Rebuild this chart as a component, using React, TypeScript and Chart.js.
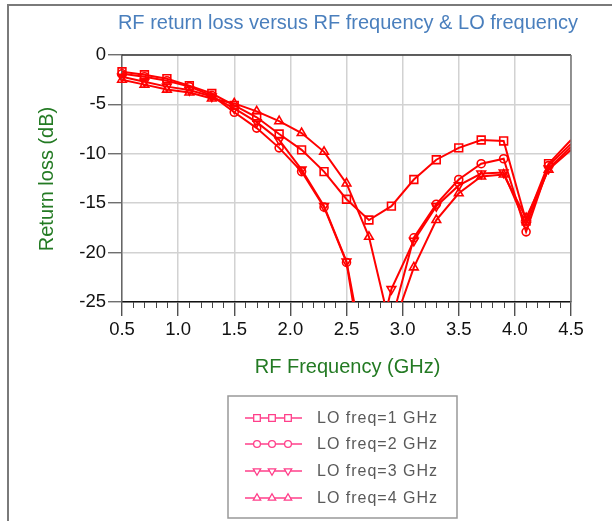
import React, { useEffect, useRef } from "react";
import { Chart, registerables } from "chart.js";

Chart.register(...registerables);

const FONT = "'Liberation Sans', Arial, sans-serif";

const TITLE = "RF return loss versus RF frequency & LO frequency";
const X_TITLE = "RF Frequency (GHz)";
const Y_TITLE = "Return loss (dB)";

const rfFreq = [0.5, 0.7, 0.9, 1.1, 1.3, 1.5, 1.7, 1.9, 2.1, 2.3, 2.5, 2.7, 2.9, 3.1, 3.3, 3.5, 3.7, 3.9, 4.1, 4.3, 4.5];

const seriesLabels = ["LO freq=1 GHz", "LO freq=2 GHz", "LO freq=3 GHz", "LO freq=4 GHz"];

const lo1 = [-1.7, -2.0, -2.4, -3.1, -3.9, -5.1, -6.3, -8.0, -9.6, -11.8, -14.6, -16.7, -15.3, -12.6, -10.6, -9.4, -8.6, -8.7, -16.8, -11.0, -8.6];
const lo2 = [-1.9, -2.2, -2.6, -3.2, -4.1, -5.8, -7.4, -9.4, -11.8, -15.4, -21.0, -35.0, -27.0, -18.5, -15.1, -12.6, -11.0, -10.5, -17.9, -11.2, -9.0];
const lo3 = [-2.2, -2.7, -3.2, -3.55, -4.2, -5.4, -6.8, -8.6, -11.6, -15.3, -20.9, -33.0, -23.7, -18.8, -15.3, -13.2, -12.0, -11.9, -17.2, -11.5, -9.3];
const lo4 = [-2.5, -3.0, -3.5, -3.8, -4.4, -4.9, -5.7, -6.7, -7.9, -9.8, -13.0, -18.4, -28.0, -21.5, -16.7, -14.0, -12.3, -12.1, -16.5, -11.6, -9.6];

const xTicks = [0.5, 1.0, 1.5, 2.0, 2.5, 3.0, 3.5, 4.0, 4.5];
const yTicks = [0, -5, -10, -15, -20, -25];

const markerStyles = [
  { style: "rect", rotation: 0, radius: 5.5 },
  { style: "circle", rotation: 0, radius: 4 },
  { style: "triangle", rotation: 180, radius: 5 },
  { style: "triangle", rotation: 0, radius: 5 },
];

const LINE_RED = "#ff0000";
const LEGEND_PINK = "#ff3f8a";

function drawMarker(ctx: CanvasRenderingContext2D, style: string, rotation: number, r: number, x: number, y: number) {
  ctx.beginPath();
  if (style === "rect") {
    const s = r * Math.SQRT1_2;
    ctx.rect(x - s, y - s, 2 * s, 2 * s);
  } else if (style === "circle") {
    ctx.arc(x, y, r, 0, Math.PI * 2);
  } else {
    const rad = (rotation * Math.PI) / 180;
    for (let k = 0; k < 3; k++) {
      const a = rad - Math.PI / 2 + (k * 2 * Math.PI) / 3;
      const px = x + r * Math.cos(a);
      const py = y + r * Math.sin(a);
      if (k === 0) ctx.moveTo(px, py);
      else ctx.lineTo(px, py);
    }
    ctx.closePath();
  }
  ctx.fill();
  ctx.stroke();
}

const decorPlugin = {
  id: "decor",
  beforeDraw(chart: any) {
    const ctx = chart.ctx;
    ctx.save();
    ctx.fillStyle = "#ffffff";
    ctx.fillRect(0, 0, chart.width, chart.height);
    ctx.restore();
  },
  afterDraw(chart: any) {
    const ctx = chart.ctx;
    const ca = chart.chartArea;
    const xs = chart.scales.x;
    ctx.save();
    // outer frame (left + top)
    ctx.strokeStyle = "#7a7a7a";
    ctx.lineWidth = 2;
    ctx.beginPath();
    ctx.moveTo(8, chart.height);
    ctx.lineTo(8, 5);
    ctx.lineTo(chart.width, 5);
    ctx.stroke();

    // plot top/right borders
    ctx.lineWidth = 1.5;
    ctx.strokeStyle = "#333333";
    ctx.beginPath();
    ctx.moveTo(ca.left, ca.top);
    ctx.lineTo(ca.right, ca.top);
    ctx.stroke();
    ctx.strokeStyle = "#777777";
    ctx.beginPath();
    ctx.moveTo(ca.right, ca.top);
    ctx.lineTo(ca.right, ca.bottom);
    ctx.stroke();

    // minor x ticks
    ctx.strokeStyle = "#444444";
    ctx.lineWidth = 1;
    for (let i = 5; i <= 45; i++) {
      if (i % 5 === 0) continue;
      const px = Math.round(xs.getPixelForValue(i / 10)) + 0.5;
      ctx.beginPath();
      ctx.moveTo(px, ca.bottom);
      ctx.lineTo(px, ca.bottom + 6);
      ctx.stroke();
    }

    // title
    ctx.fillStyle = "#4a7fbd";
    ctx.font = `20px ${FONT}`;
    ctx.textAlign = "center";
    ctx.textBaseline = "middle";
    ctx.fillText(TITLE, 348, 23);

    // x title
    ctx.fillStyle = "#237a23";
    ctx.font = `20px ${FONT}`;
    ctx.fillText(X_TITLE, (ca.left + ca.right) / 2 + 1, 367);

    // y title
    ctx.save();
    ctx.translate(47, 179);
    ctx.rotate(-Math.PI / 2);
    ctx.fillText(Y_TITLE, 0, 0);
    ctx.restore();

    // legend box
    ctx.strokeStyle = "#999999";
    ctx.lineWidth = 1.5;
    ctx.strokeRect(228, 396, 229, 122);
    const rows = [418, 444, 471, 498];
    chart.data.datasets.forEach((ds: any, i: number) => {
      const y = rows[i];
      ctx.strokeStyle = LEGEND_PINK;
      ctx.lineWidth = 1.5;
      ctx.beginPath();
      ctx.moveTo(245, y);
      ctx.lineTo(302, y);
      ctx.stroke();
      const ms = markerStyles[i];
      [257, 272, 288].forEach((mx) => {
        ctx.fillStyle = "#ffffff";
        ctx.strokeStyle = LEGEND_PINK;
        ctx.lineWidth = 1.3;
        drawMarker(ctx, ms.style, ms.rotation, ms.radius * 0.85, mx, y);
      });
      ctx.fillStyle = "#5a5a5a";
      ctx.font = `16px ${FONT}`;
      (ctx as any).letterSpacing = "1px";
      ctx.textAlign = "left";
      ctx.textBaseline = "middle";
      ctx.fillText(ds.label, 317, y + 1);
      (ctx as any).letterSpacing = "0px";
    });
    ctx.restore();
  },
};

export default function App() {
  const ref = useRef<HTMLCanvasElement | null>(null);

  useEffect(() => {
    if (!ref.current) return;
    const allSeries = [lo1, lo2, lo3, lo4];
    const datasets = allSeries.map((vals, i) => ({
      label: seriesLabels[i],
      data: rfFreq.map((x, j) => ({ x, y: vals[j] })),
      borderColor: LINE_RED,
      borderWidth: 2,
      backgroundColor: "rgba(255,255,255,0)",
      pointStyle: markerStyles[i].style,
      rotation: markerStyles[i].rotation,
      pointRadius: rfFreq.map((_, j) => (j === rfFreq.length - 1 ? 0 : markerStyles[i].radius)),
      pointBorderColor: LINE_RED,
      pointBorderWidth: 1.6,
      pointBackgroundColor: "rgba(255,255,255,0)",
      tension: 0,
      clip: { left: 10, top: 8, right: 0, bottom: 0 },
    }));

    const chart = new Chart(ref.current, {
      type: "line",
      data: { datasets },
      plugins: [decorPlugin],
      options: {
        animation: false,
        responsive: false,
        maintainAspectRatio: false,
        layout: { padding: { left: 0, right: 41, top: 55, bottom: 0 } },
        plugins: {
          legend: { display: false },
          title: { display: false },
          tooltip: { enabled: false },
        },
        scales: {
          x: {
            type: "linear",
            min: 0.5,
            max: 4.5,
            afterFit: (s: any) => {
              s.height = 521 - 302;
            },
            afterBuildTicks: (s: any) => {
              s.ticks = xTicks.map((v) => ({ value: v }));
            },
            ticks: {
              color: "#111111",
              font: { family: FONT, size: 18.5 },
              padding: 3,
              maxRotation: 0,
              autoSkip: false,
              callback: (v: any) => Number(v).toFixed(1),
            },
            grid: {
              color: "#d2d2d2",
              lineWidth: 1.5,
              tickColor: "#333333",
              tickLength: 14,
              tickWidth: 1.2,
            },
            border: { display: true, color: "#111111", width: 1.5 },
          },
          y: {
            type: "linear",
            min: -25,
            max: 0,
            afterFit: (s: any) => {
              s.width = 122;
            },
            afterBuildTicks: (s: any) => {
              s.ticks = yTicks.map((v) => ({ value: v }));
            },
            ticks: {
              color: "#111111",
              font: { family: FONT, size: 18.5 },
              padding: 2,
              autoSkip: false,
              callback: (v: any) => String(v),
            },
            grid: {
              color: "#d2d2d2",
              lineWidth: 1.5,
              tickColor: "#555555",
              tickLength: 14,
              tickWidth: 1.2,
            },
            border: { display: true, color: "#666666", width: 1.5 },
          },
        },
      } as any,
    });
    return () => chart.destroy();
  }, []);

  return (
    <div style={{ position: "fixed", left: 0, top: 0, width: 612, height: 521, background: "#fff" }}>
      <canvas ref={ref} width={612} height={521} style={{ width: 612, height: 521, display: "block" }} />
    </div>
  );
}
